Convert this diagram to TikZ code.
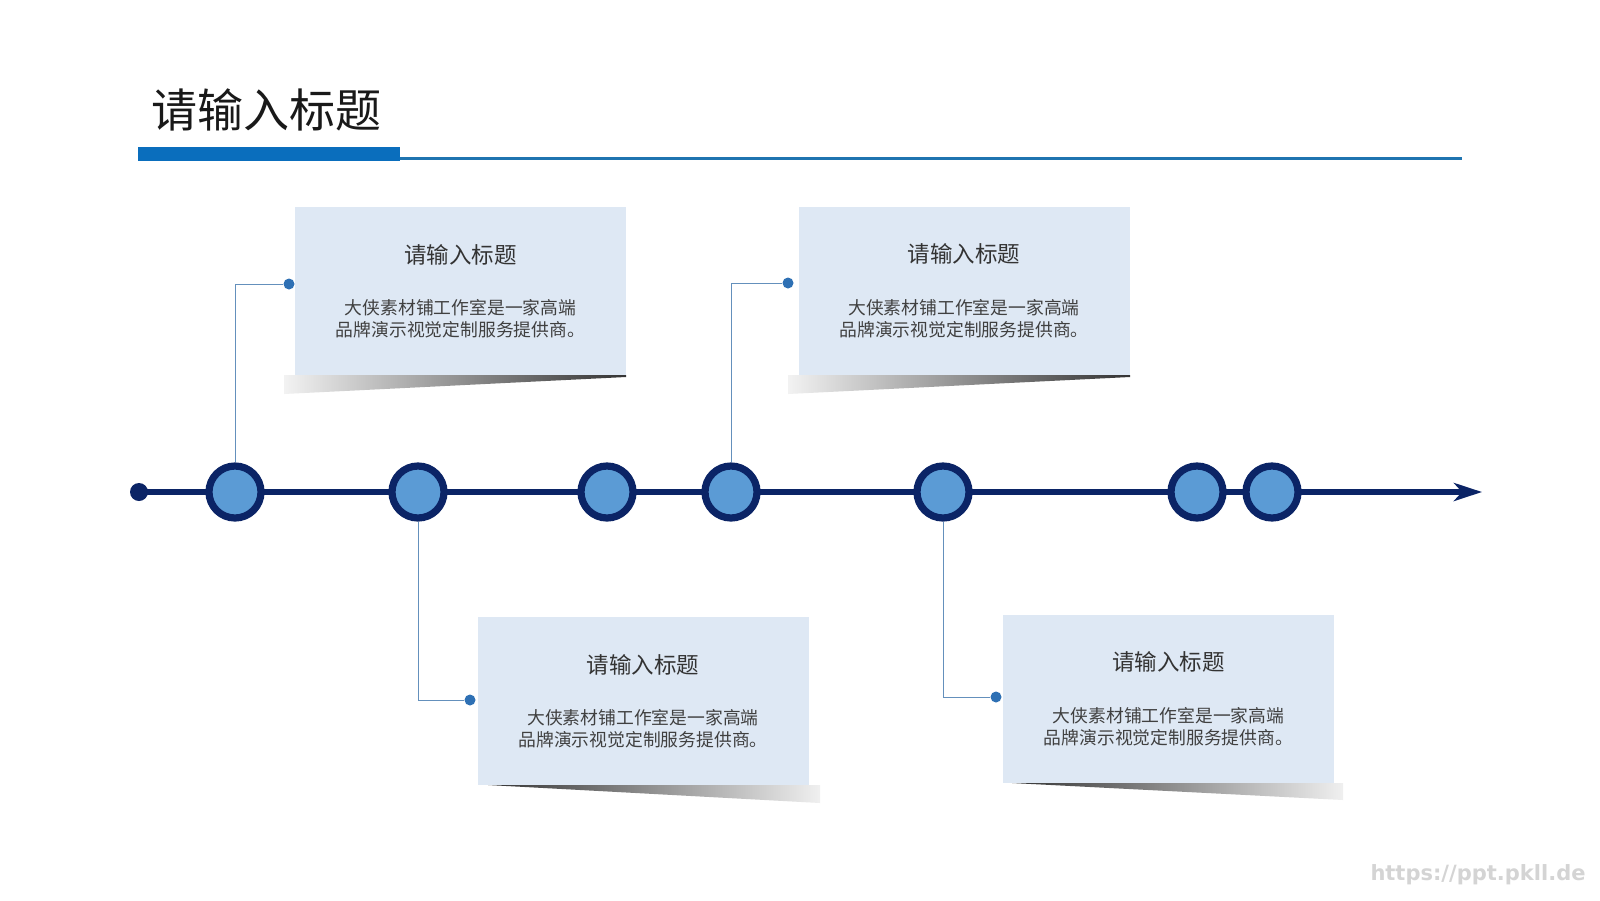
\documentclass[tikz,border=0pt]{standalone}
\usepackage{fontspec}
\newfontfamily\cjk{Noto Sans CJK SC}
\newfontfamily\webfont{DejaVu Sans}
\definecolor{navy}{HTML}{0B2466}
\definecolor{dotfill}{HTML}{5B9BD5}
\definecolor{barblue}{HTML}{0A6EBD}
\definecolor{ruleblue}{HTML}{1F74B0}
\definecolor{cardbg}{HTML}{DEE8F4}
\definecolor{linkblue}{HTML}{6490BC}
\definecolor{pinblue}{HTML}{2E70B4}
\definecolor{textmain}{HTML}{333333}
\definecolor{textbody}{HTML}{404040}
\usetikzlibrary{arrows.meta, positioning, calc}

\begin{document}
\begin{tikzpicture}[
        x=1pt, y=-1pt,
        font=\cjk,
        milestone/.style={
            circle,
            draw=navy,
            fill=dotfill,
            line width=7.2pt,
            minimum size=52pt,
            inner sep=0pt
        },
        card/.style={
            rectangle,
            fill=cardbg,
            minimum width=331pt,
            minimum height=168pt,
            inner sep=0pt
        },
        cardtitle/.style={
            text=textmain,
            inner sep=0pt,
            font=\cjk\fontsize{22.5}{26}\selectfont
        },
        cardtext/.style={
            text=textbody,
            align=center,
            inner sep=0pt,
            font=\cjk\fontsize{17.8}{22}\selectfont
        },
        pin/.style={circle, fill=pinblue, minimum size=11pt, inner sep=0pt},
        link/.style={draw=linkblue, line width=1pt},
        axis/.style={
            -{Stealth[length=28pt, width=18pt, inset=8pt]},
            draw=navy,
            line width=6.5pt
        }
    ]

    \fill[white] (0,0) rectangle (1600,900);
    \useasboundingbox (0,0) rectangle (1600,900);

    % Heading
    \node[anchor=west, inner sep=0pt, text=black!90, font=\cjk\fontsize{46}{50}\selectfont] (heading) at (151,110) {请输入标题};
    \fill[barblue] (138,147) rectangle (400,161);
    \fill[ruleblue] (400,156.5) rectangle (1462,159.5);

    % Shadows under the cards
    \shade[left color=black!5, right color=black!80] (284,375) -- (626,375) -- (626,377) -- (284,394) -- cycle;
    \shade[left color=black!5, right color=black!80] (788,375) -- (1130,375) -- (1130,377) -- (788,394) -- cycle;
    \shade[left color=black!80, right color=black!6] (488,785) -- (820,785) -- (820,803) -- cycle;
    \shade[left color=black!80, right color=black!6] (1012,783) -- (1343,783) -- (1343,800) -- cycle;

    % Cards
    \node[card] (card1) at (460.5,291) {};
    \node[card] (card2) at (964,290.5) {};
    \node[card] (card3) at (643,701) {};
    \node[card] (card4) at (1168.5,698.5) {};

    \foreach \c in {card1, card2, card3, card4} {
        \node[cardtitle] (\c-title) at ([yshift=-48pt]\c.north) {请输入标题};
        \node[cardtext] (\c-text) at ([yshift=-112pt]\c.north) {大侠素材铺工作室是一家高端\\品牌演示视觉定制服务提供商。};
    }

    % Timeline
    \node[circle, fill=navy, minimum size=18pt, inner sep=0pt] (origin) at (139,492) {};
    \coordinate (axisend) at (1482,492);
    \draw[axis] (origin.center) -- (axisend);

    \node[milestone] (m1) at (235,492) {};
    \node[milestone] (m2) at (418,492) {};
    \node[milestone] (m3) at (607,492) {};
    \node[milestone] (m4) at (731,492) {};
    \node[milestone] (m5) at (943,492) {};
    \node[milestone] (m6) at (1197,492) {};
    \node[milestone] (m7) at (1272,492) {};

    % Pins and links
    \node[pin] (pin1) at (289,284) {};
    \node[pin] (pin2) at (788,283) {};
    \node[pin] (pin3) at (470,700) {};
    \node[pin] (pin4) at (996,697) {};

    \draw[link] (m1) |- (pin1);
    \draw[link] (m4) |- (pin2);
    \draw[link] (m2) |- (pin3);
    \draw[link] (m5) |- (pin4);

    % Watermark
    \node[text=black!17, font=\webfont\bfseries\fontsize{21}{24}\selectfont] (site) at (1478,875) {https://ppt.pkll.de};

\end{tikzpicture}
\end{document}
